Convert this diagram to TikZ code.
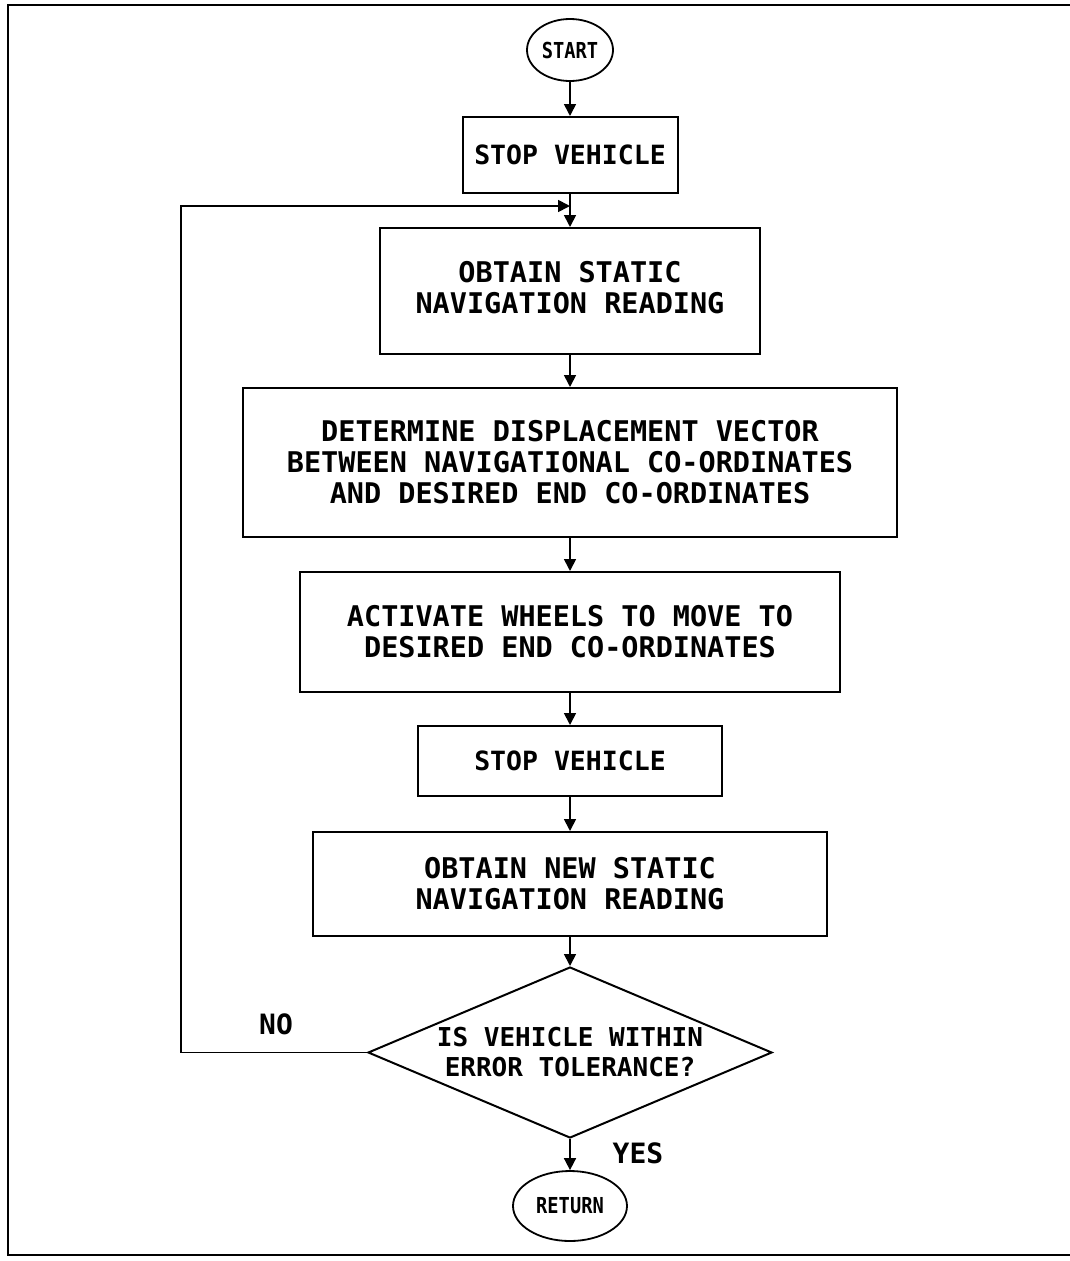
\documentclass[tikz,border=0pt]{standalone}
\usepackage{fontspec}
\usetikzlibrary{shapes.geometric,arrows.meta}
\newfontfamily\plotfont{DejaVu Sans Mono}
\newfontfamily\termfont[FakeStretch=0.85]{DejaVu Sans Mono}
\begin{document}
\begin{tikzpicture}[x=1pt,y=-1pt,
  box/.style={draw, line width=2pt, rectangle, inner sep=0pt, align=center,
    font=\plotfont\bfseries\fontsize{28.5}{31}\selectfont},
  smalltext/.style={font=\plotfont\bfseries\fontsize{26.5}{30}\selectfont},
  dia/.style={draw, line width=2pt, diamond, aspect=2.36, inner sep=0pt, align=center,
    font=\plotfont\bfseries\fontsize{26}{30}\selectfont},
  term/.style={draw, line width=1.8pt, ellipse, inner sep=0pt,
    font=\termfont\bfseries\fontsize{22}{24}\selectfont},
  lbl/.style={inner sep=0pt, font=\plotfont\bfseries\fontsize{28}{30}\selectfont},
  conn/.style={line width=1.7pt, -{Triangle[length=12pt,width=12pt]}},
]
\useasboundingbox (0,0) rectangle (1070,1261);
% frame
\draw[line width=2.8pt] (1070,5) -- (8,5) -- (8,1255) -- (1070,1255);

\node[term, minimum width=86pt, minimum height=62pt] (start) at (570,50) {START};
\node[box, smalltext, minimum width=215pt, minimum height=76pt] (stop1) at (570,155) {STOP VEHICLE};
\node[box, minimum width=380pt, minimum height=126pt] (obtain) at (570,291) {OBTAIN STATIC\\NAVIGATION READING\\[-23pt]\rule{0pt}{0pt}};
\node[box, minimum width=654pt, minimum height=149pt] (det) at (570,462.5) {DETERMINE DISPLACEMENT VECTOR\\BETWEEN NAVIGATIONAL CO-ORDINATES\\AND DESIRED END CO-ORDINATES};
\node[box, minimum width=540pt, minimum height=120pt] (act) at (570,632) {ACTIVATE WHEELS TO MOVE TO\\DESIRED END CO-ORDINATES};
\node[box, smalltext, minimum width=304pt, minimum height=70pt] (stop2) at (570,761) {STOP VEHICLE};
\node[box, minimum width=514pt, minimum height=104pt] (new) at (570,884) {OBTAIN NEW STATIC\\NAVIGATION READING};
\node[dia, minimum width=404pt, minimum height=171pt] (dec) at (570,1052.5) {IS VEHICLE WITHIN\\ERROR TOLERANCE?};
\node[term, minimum width=114pt, minimum height=70pt] (ret) at (570,1206) {RETURN};

\node[lbl] (no) at (276,1024) {NO};
\node[lbl] (yes) at (638,1153) {YES};

\coordinate (loopc) at (181,206);
\coordinate (join) at (570,206);

\draw[conn] (start) -- (stop1);
\draw[conn] (stop1) -- (obtain);
\draw[conn] (obtain) -- (det);
\draw[conn] (det) -- (act);
\draw[conn] (act) -- (stop2);
\draw[conn] (stop2) -- (new);
\draw[conn] (new) -- (dec);
\draw[conn] (dec) -- (ret);
\draw[conn] (dec.west) -| (loopc) -- (join);
\end{tikzpicture}
\end{document}
